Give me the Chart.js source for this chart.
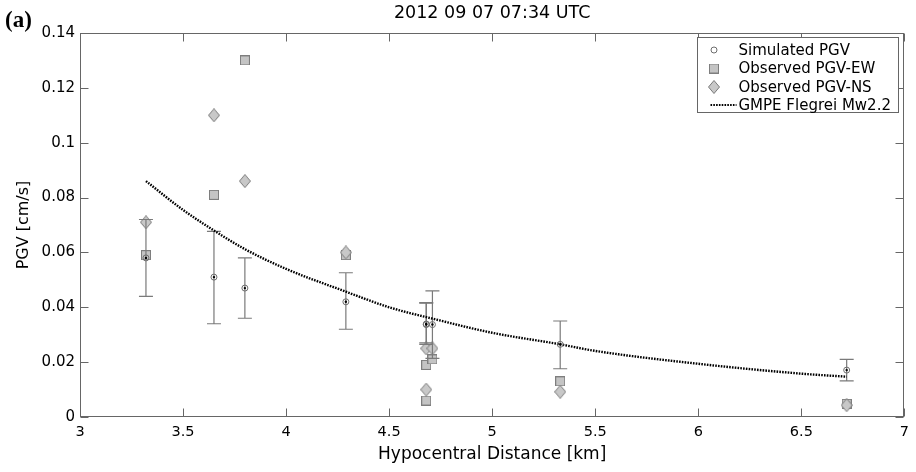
<!DOCTYPE html>
<html><head><meta charset="utf-8">
<script src="https://cdn.jsdelivr.net/npm/chart.js@4/dist/chart.umd.min.js"></script>
<style>html,body{margin:0;padding:0;background:#fff;}#wrap{position:relative;width:916px;height:472px;}</style>
</head><body><div id="wrap"><canvas id="c" width="916" height="472"></canvas></div>
<script>
const titleText = '2012 09 07 07:34 UTC';
const panelLabel = '(a)';
const xAxisTitle = 'Hypocentral Distance [km]';
const yAxisTitle = 'PGV [cm/s]';
const seriesLabels = ['Simulated PGV', 'Observed PGV-EW', 'Observed PGV-NS', 'GMPE Flegrei Mw2.2'];

const distances    = [3.32, 3.65, 3.80, 4.29, 4.68, 4.68, 4.71, 5.33, 6.72];
const simulatedPGV = [0.058, 0.051, 0.047, 0.042, 0.0337, 0.0339, 0.0337, 0.0265, 0.0171];
const simLow       = [0.044, 0.034, 0.036, 0.032, 0.027, 0.0265, 0.0214, 0.0176, 0.0132];
const simHigh      = [0.072, 0.0677, 0.058, 0.0526, 0.0417, 0.0415, 0.046, 0.035, 0.021];
const observedEW   = [0.059, 0.081, 0.130, 0.059, 0.019, 0.006, 0.021, 0.013, 0.0048];
const observedNS   = [0.071, 0.110, 0.086, 0.060, 0.025, 0.010, 0.025, 0.0092, 0.0043];

const gmpeDistance = [3.32, 3.5, 3.65, 3.8, 4.0, 4.29, 4.5, 4.73, 5.0, 5.33, 5.5, 6.0, 6.5, 6.72];
const gmpePGV      = [0.086, 0.0755, 0.068, 0.0612, 0.054, 0.0457, 0.040, 0.0355, 0.0307, 0.0265, 0.0241, 0.0194, 0.0158, 0.0147];

const xTicks = [3, 3.5, 4, 4.5, 5, 5.5, 6, 6.5, 7];
const xTickLabels = ['3', '3.5', '4', '4.5', '5', '5.5', '6', '6.5', '7'];
const yTicks = [0, 0.02, 0.04, 0.06, 0.08, 0.1, 0.12, 0.14];
const yTickLabels = ['0', '0.02', '0.04', '0.06', '0.08', '0.1', '0.12', '0.14'];

const FONT = "'DejaVu Sans', 'Liberation Sans', Arial, sans-serif";

function makeSquare() {
  const c = document.createElement('canvas'); c.width = 10; c.height = 10;
  const g = c.getContext('2d');
  g.fillStyle = '#c4c4c4'; g.strokeStyle = '#7e7e7e'; g.lineWidth = 1;
  g.fillRect(0.5, 0.5, 9, 9); g.strokeRect(0.5, 0.5, 9, 9);
  return c;
}
function makeDiamond() {
  const c = document.createElement('canvas'); c.width = 12; c.height = 14;
  const g = c.getContext('2d');
  g.fillStyle = '#c8c8c8'; g.strokeStyle = '#7a7a7a'; g.lineWidth = 1;
  g.beginPath(); g.moveTo(6, 0.5); g.lineTo(11.5, 7); g.lineTo(6, 13.5); g.lineTo(0.5, 7); g.closePath();
  g.fill(); g.stroke();
  return c;
}
const squareImg = makeSquare();
const diamondImg = makeDiamond();

const pts = (xs, ys) => xs.map((x, i) => ({x: x, y: ys[i]}));

const decor = {
  id: 'decor',
  afterDatasetDraw(chart, args) {
    if (args.index !== 3) return;
    const ctx = chart.ctx, xs = chart.scales.x, ys = chart.scales.y;
    ctx.save();
    ctx.strokeStyle = '#7a7a7a'; ctx.lineWidth = 1.2;
    distances.forEach((d, i) => {
      const px = xs.getPixelForValue(d);
      const y1 = ys.getPixelForValue(simLow[i]), y2 = ys.getPixelForValue(simHigh[i]);
      ctx.beginPath();
      ctx.moveTo(px, y1); ctx.lineTo(px, y2);
      ctx.moveTo(px - 7, y1); ctx.lineTo(px + 7, y1);
      ctx.moveTo(px - 7, y2); ctx.lineTo(px + 7, y2);
      ctx.stroke();
    });
    ctx.restore();
  },
  afterDraw(chart) {
    const ctx = chart.ctx, a = chart.chartArea, xs = chart.scales.x, ys = chart.scales.y;
    ctx.save();
    ctx.strokeStyle = '#666'; ctx.lineWidth = 1;
    const L = Math.round(a.left) + 0.5, R = Math.round(a.right) - 0.5, T = Math.round(a.top) + 0.5, B = Math.round(a.bottom) - 0.5;
    ctx.strokeRect(L, T, R - L, B - T);
    ctx.beginPath();
    xTicks.forEach(v => {
      const px = Math.round(xs.getPixelForValue(v)) + 0.5;
      ctx.moveTo(px, B); ctx.lineTo(px, B - 8);
      ctx.moveTo(px, T); ctx.lineTo(px, T + 8);
    });
    yTicks.forEach(v => {
      const py = Math.round(ys.getPixelForValue(v)) + 0.5;
      ctx.moveTo(L, py); ctx.lineTo(L + 8, py);
      ctx.moveTo(R, py); ctx.lineTo(R - 8, py);
    });
    ctx.stroke();

    // legend
    const bx = Math.round(a.right) - 206.5, by = 37.5, bw = 201, bh = 75;
    ctx.fillStyle = '#fff'; ctx.fillRect(bx, by, bw, bh);
    ctx.strokeStyle = '#666'; ctx.strokeRect(bx, by, bw, bh);
    const mx = bx + 16.5, tx = bx + 41;
    const rows = [50, 68.5, 87, 105];
    ctx.beginPath(); ctx.arc(mx, rows[0], 3, 0, Math.PI * 2);
    ctx.strokeStyle = '#6e6e6e'; ctx.lineWidth = 1; ctx.stroke();
    ctx.drawImage(squareImg, mx - 5, rows[1] - 5);
    ctx.drawImage(diamondImg, mx - 6, rows[2] - 7);
    ctx.strokeStyle = '#000'; ctx.lineWidth = 2.2; ctx.setLineDash([1.6, 1.2]);
    ctx.beginPath(); ctx.moveTo(bx + 13, rows[3]); ctx.lineTo(bx + 39, rows[3]); ctx.stroke();
    ctx.setLineDash([]);
    ctx.fillStyle = '#000'; ctx.font = '15px ' + FONT; ctx.textBaseline = 'middle'; ctx.textAlign = 'left';
    seriesLabels.forEach((s, i) => ctx.fillText(s, tx, rows[i] + 1));

    ctx.font = "bold 23px 'Liberation Serif', 'Times New Roman', serif";
    ctx.textBaseline = 'alphabetic';
    ctx.fillText(panelLabel, 5, 27);
    ctx.restore();
  }
};

new Chart(document.getElementById('c'), {
  type: 'scatter',
  data: {
    datasets: [
      { label: seriesLabels[0], data: pts(distances, simulatedPGV), pointStyle: 'circle', pointRadius: 3,
        borderColor: '#6e6e6e', backgroundColor: 'rgba(0,0,0,0)', borderWidth: 1, order: 1 },
      { label: 'sim-center', data: pts(distances, simulatedPGV), pointStyle: 'circle', pointRadius: 1.2,
        borderColor: '#000', backgroundColor: '#000', borderWidth: 0, order: 0 },
      { label: seriesLabels[1], data: pts(distances, observedEW), pointStyle: squareImg, order: 4 },
      { label: seriesLabels[2], data: pts(distances, observedNS), pointStyle: diamondImg, order: 3 },
      { label: seriesLabels[3], data: pts(gmpeDistance, gmpePGV), showLine: true, pointRadius: 0,
        borderColor: '#000', borderWidth: 2.4, borderDash: [1.6, 1.2], cubicInterpolationMode: 'monotone', order: 2 }
    ]
  },
  options: {
    responsive: false, animation: false, events: [],
    layout: { padding: { left: 0, right: 11, top: 0, bottom: 0 } },
    plugins: {
      legend: { display: false }, tooltip: { enabled: false },
      title: { display: true, text: titleText, fullSize: false, color: '#000',
        font: { family: FONT, size: 17.5, weight: 'normal' }, padding: { top: 2.5, bottom: 9.5 } }
    },
    scales: {
      x: { type: 'linear', min: 3, max: 7,
        afterBuildTicks: s => { s.ticks = xTicks.map(v => ({ value: v })); },
        afterFit: s => { s.height = 55; },
        grid: { display: false, drawTicks: false }, border: { display: false },
        ticks: { color: '#000', padding: 7, maxRotation: 0, autoSkip: false,
          font: { family: FONT, size: 14.5 }, callback: (v, i) => xTickLabels[i] },
        title: { display: true, text: xAxisTitle, color: '#000', font: { family: FONT, size: 17 },
          padding: { top: 0, bottom: 7 } } },
      y: { type: 'linear', min: 0, max: 0.14,
        afterBuildTicks: s => { s.ticks = yTicks.map(v => ({ value: v })); },
        afterFit: s => { s.width = 80; },
        grid: { display: false, drawTicks: false }, border: { display: false },
        ticks: { color: '#000', padding: 5, autoSkip: false,
          font: { family: FONT, size: 15 }, callback: (v, i) => yTickLabels[i] },
        title: { display: true, text: yAxisTitle, color: '#000', font: { family: FONT, size: 16 },
          padding: { top: 14.5, bottom: 0 } } }
    }
  },
  plugins: [decor]
});
</script>
</body></html>
